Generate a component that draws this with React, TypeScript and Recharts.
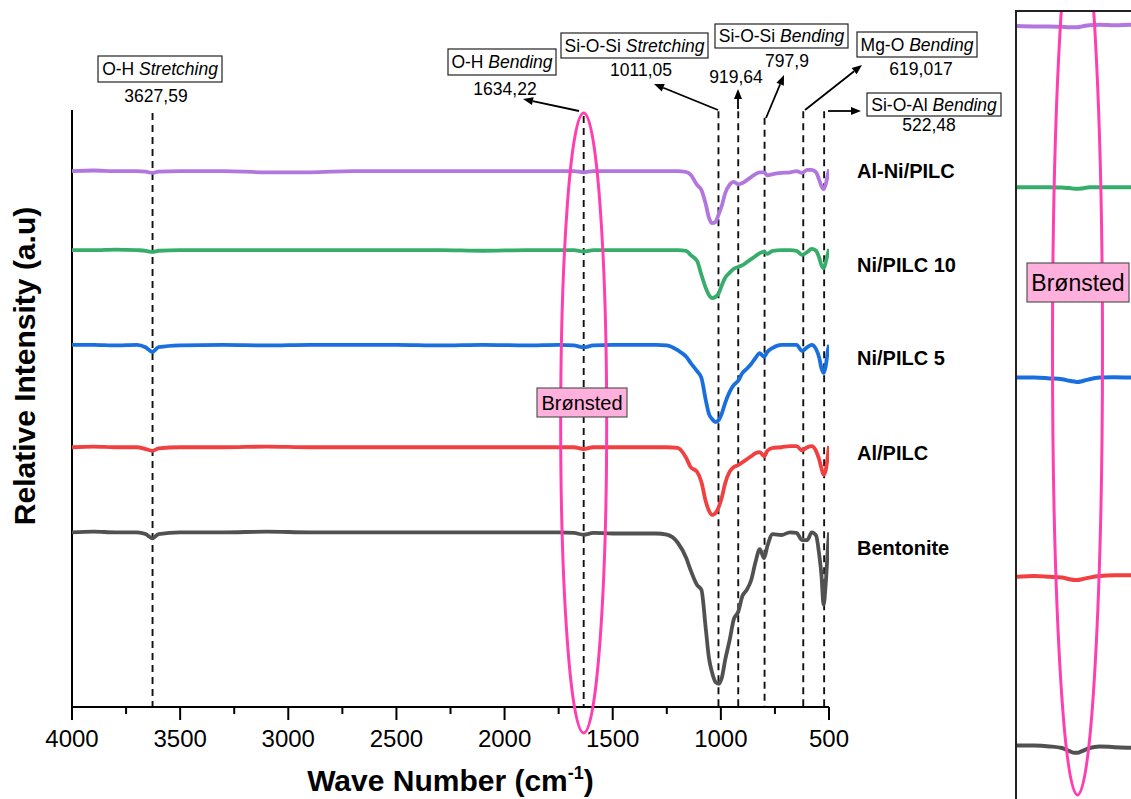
import React from "react";
import { LineChart, Line, XAxis, YAxis, ReferenceLine, ReferenceDot } from "recharts";

// FTIR spectra, shared wavenumber grid (cm-1), stacked relative intensity (a.u.)
const wavenumbers = [
  4000, 3900, 3800, 3700, 3660, 3628, 3600, 3500, 3300, 3100,
  2900, 2700, 2500, 2300, 2100, 1900, 1750, 1680, 1634, 1590,
  1500, 1400, 1300, 1250, 1200, 1160, 1140, 1110, 1090, 1070,
  1055, 1040, 1025, 1010, 995, 980, 960, 940, 920, 900,
  880, 860, 840, 820, 800, 785, 760, 720, 680, 650,
  625, 600, 580, 560, 545, 535, 525, 515, 505, 500,
];
const alNiPilc = [
  90.3, 90.4, 90.3, 90.3, 90.2, 90.0, 90.2, 90.3, 90.3, 90.1,
  90.1, 90.3, 90.3, 90.3, 90.3, 90.3, 90.3, 90.3, 90.1, 90.3,
  90.3, 90.3, 90.3, 90.3, 90.3, 90.15, 89.7, 88.0, 87.15, 84.8,
  82.5, 81.6, 81.8, 83.1, 84.6, 86.6, 88.0, 88.5, 88.1, 88.3,
  88.8, 89.3, 89.8, 90.1, 90.1, 89.6, 89.8, 90.0, 90.1, 90.3,
  90.0, 90.5, 90.5, 90.1, 88.8, 87.8, 87.3, 88.1, 89.8, 90.6,
];
const niPilc10 = [
  77.1, 77.1, 77.2, 77.1, 77.0, 76.8, 77.0, 77.1, 77.1, 77.1,
  77.1, 77.1, 77.1, 77.1, 77.0, 77.1, 77.1, 77.1, 76.9, 77.1,
  77.1, 77.1, 77.1, 77.1, 77.1, 77.0, 76.3, 75.3, 73.0, 70.8,
  69.6, 69.1, 69.3, 69.9, 71.3, 72.5, 73.3, 74.0, 74.3, 74.6,
  75.1, 75.6, 76.1, 76.6, 76.8, 76.5, 77.0, 77.1, 77.1, 77.0,
  76.3, 76.8, 77.3, 77.0, 75.8, 74.6, 74.1, 75.1, 76.6, 77.3,
];
const niPilc5 = [
  61.3, 61.3, 61.2, 61.3, 60.9, 60.1, 60.9, 61.2, 61.3, 61.2,
  61.3, 61.3, 61.3, 61.2, 61.3, 61.2, 61.3, 61.2, 60.9, 61.2,
  61.3, 61.3, 61.3, 61.2, 60.4, 59.3, 58.3, 56.9, 55.8, 52.1,
  49.75, 48.9, 48.4, 48.75, 49.9, 51.6, 53.4, 54.6, 55.3, 56.6,
  57.3, 58.1, 59.1, 59.9, 59.3, 60.1, 60.8, 61.3, 61.3, 61.3,
  60.3, 60.9, 61.3, 60.6, 59.1, 57.4, 56.6, 57.8, 60.4, 61.3,
];
const alPilc = [
  44.2, 44.3, 44.2, 44.2, 43.9, 43.6, 44.0, 44.2, 44.2, 44.3,
  44.2, 44.2, 44.2, 44.2, 44.2, 44.2, 44.2, 44.2, 43.9, 44.2,
  44.2, 44.2, 44.2, 44.2, 44.1, 42.4, 40.9, 40.1, 38.4, 35.2,
  33.6, 32.9, 33.2, 34.2, 35.9, 38.2, 40.1, 40.9, 41.2, 41.7,
  42.2, 42.7, 43.2, 43.4, 42.7, 43.6, 44.1, 44.2, 44.4, 44.4,
  43.7, 44.2, 44.4, 43.6, 42.1, 40.7, 39.6, 40.4, 42.9, 44.4,
];
const bentonite = [
  30.0, 30.1, 30.0, 30.0, 29.7, 29.0, 29.7, 30.0, 30.0, 30.1,
  30.0, 30.0, 30.0, 30.0, 30.0, 30.0, 30.0, 29.9, 29.6, 29.9,
  29.8, 29.8, 29.8, 29.6, 28.3, 25.7, 23.7, 21.2, 20.4, 14.0,
  9.0, 6.5, 5.0, 4.7, 5.8, 8.7, 11.9, 15.5, 16.7, 19.4,
  20.4, 22.0, 25.0, 27.2, 25.7, 27.7, 29.7, 29.55, 30.0, 29.9,
  28.7, 28.7, 30.0, 29.5, 26.2, 22.9, 17.9, 21.5, 27.5, 30.0,
];

// zoomed panel around the O-H bending band
const insetWavenumbers = [1755, 1720, 1690, 1665, 1650, 1640, 1634, 1625, 1610, 1590, 1560, 1520, 1480, 1440, 1400, 1355];
const insetAlNiPilc = [98.25, 98.2, 98.2, 98.15, 98.1, 98.1, 98.1, 98.2, 98.35, 98.4, 98.35, 98.4, 98.35, 98.4, 98.4, 98.35];
const insetNiPilc10 = [78.1, 78.1, 78.1, 78.05, 78.0, 77.9, 77.9, 77.95, 78.1, 78.1, 78.1, 78.1, 78.1, 78.1, 78.1, 78.1];
const insetNiPilc5 = [54.3, 54.3, 54.2, 54.1, 53.9, 53.8, 53.75, 53.85, 54.1, 54.3, 54.35, 54.3, 54.3, 54.3, 54.3, 54.3];
const insetAlPilc = [29.4, 29.5, 29.4, 29.3, 29.1, 29.0, 29.0, 29.1, 29.3, 29.5, 29.6, 29.6, 29.6, 29.6, 29.6, 29.6];
const insetBentonite = [8.3, 8.3, 8.2, 8.0, 7.6, 7.4, 7.4, 7.6, 8.0, 8.2, 8.1, 8.0, 7.9, 7.9, 7.9, 7.9];

const seriesNames = ["Al-Ni/PILC", "Ni/PILC 10", "Ni/PILC 5", "Al/PILC", "Bentonite"];
const seriesKeys = ["alNiPilc", "niPilc10", "niPilc5", "alPilc", "bentonite"];
const seriesColors = ["#B177DE", "#37AD6B", "#1A6FDF", "#F14040", "#515151"];
const seriesLabelLevels = [89.15, 73.46, 57.93, 42.07, 26.21];

const xTicks = [4000, 3750, 3500, 3250, 3000, 2750, 2500, 2250, 2000, 1750, 1500, 1250, 1000, 750, 500];

const peakWavenumbers = [3627.59, 1634.22, 1011.05, 919.64, 797.9, 619.017, 522.48];
const peakValues = ["3627,59", "1634,22", "1011,05", "919,64", "797,9", "619,017", "522,48"];
const peakGroups = ["O-H", "O-H", "Si-O-Si", "", "Si-O-Si", "Mg-O", "Si-O-Al"];
const peakModes = ["Stretching", "Bending", "Stretching", "", "Bending", "Bending", "Bending"];
const peakLineTops = [100.0, 99.5, 100.3, 100.3, 99.2, 100.3, 100.3];

const spectra = wavenumbers.map((wn, i) => ({
  wn,
  alNiPilc: alNiPilc[i],
  niPilc10: niPilc10[i],
  niPilc5: niPilc5[i],
  alPilc: alPilc[i],
  bentonite: bentonite[i],
}));
const insetSpectra = insetWavenumbers.map((wn, i) => ({
  wn,
  alNiPilc: insetAlNiPilc[i],
  niPilc10: insetNiPilc10[i],
  niPilc5: insetNiPilc5[i],
  alPilc: insetAlPilc[i],
  bentonite: insetBentonite[i],
}));

const FONT = "'Liberation Sans', Arial, Helvetica, sans-serif";
const PINK = "#FF3FB0";
const PINK_FILL = "#FFB0DC";
const Y_DOMAIN: [number, number] = [0.835, 100.5];

// annotation boxes / arrows (pixels)
const annotLayout = [
  { box: [98, 56, 124, 26], text: [156, 102], arrow: null },
  { box: [448, 49, 108, 26], text: [505, 95], arrow: [579, 111, 523, 99] },
  { box: [561, 33, 147, 25], text: [641, 76], arrow: [718, 110, 654, 84] },
  { box: null, text: [736, 83], arrow: [738, 109, 738, 89] },
  { box: [715, 24, 133, 24], text: [787, 67], arrow: [766, 118, 784, 75] },
  { box: [857, 32, 120, 25], text: [921, 75], arrow: [805, 110, 862, 65] },
  { box: [867, 93, 134, 23], text: [929, 131], arrow: [828, 111, 861, 111] },
];

const Arrow = ({ x1, y1, x2, y2 }: { x1: number; y1: number; x2: number; y2: number }) => {
  const a = Math.atan2(y2 - y1, x2 - x1);
  const len = 10;
  const w = 4;
  const bx = x2 - len * Math.cos(a);
  const by = y2 - len * Math.sin(a);
  const p1 = `${bx + w * Math.sin(a)},${by - w * Math.cos(a)}`;
  const p2 = `${bx - w * Math.sin(a)},${by + w * Math.cos(a)}`;
  return (
    <g>
      <line x1={x1} y1={y1} x2={bx} y2={by} stroke="#000" strokeWidth={1.8} />
      <polygon points={`${x2},${y2} ${p1} ${p2}`} fill="#000" />
    </g>
  );
};

const AxisTick = (props: any) => {
  const { x, y, payload } = props;
  const major = payload.value % 500 === 0;
  return (
    <g>
      <line x1={x} x2={x} y1={y} y2={y + (major ? 13 : 7)} stroke="#000" strokeWidth={2} />
      {major && (
        <text x={x} y={y + 40} textAnchor="middle" fontSize={24} fill="#000" fontFamily={FONT}>
          {payload.value}
        </text>
      )}
    </g>
  );
};

const xTitle = () => (
  <text x={450.5} y={791} textAnchor="middle" fontSize={30} fontWeight="bold" fill="#000" fontFamily={FONT}>
    Wave Number (cm
    <tspan fontSize={18} dy={-12}>-1</tspan>
    <tspan dy={12}>)</tspan>
  </text>
);

const yTitle = () => (
  <text
    x={0}
    y={0}
    transform="translate(35, 366) rotate(-90)"
    textAnchor="middle"
    fontSize={30}
    fontWeight="bold"
    fill="#000"
    fontFamily={FONT}
  >
    Relative Intensity (a.u)
  </text>
);

const PeakNote = (i: number) => () => {
  const l = annotLayout[i];
  return (
    <g fontFamily={FONT} fontSize={17.5} fill="#000">
      {l.box && (
        <g>
          <rect x={l.box[0]} y={l.box[1]} width={l.box[2]} height={l.box[3]} fill="#fff" stroke="#222" strokeWidth={1.2} />
          <text x={l.box[0] + l.box[2] / 2} y={l.box[1] + l.box[3] / 2 + 6} textAnchor="middle">
            {peakGroups[i]} <tspan fontStyle="italic">{peakModes[i]}</tspan>
          </text>
        </g>
      )}
      <text x={l.text[0]} y={l.text[1]} textAnchor="middle">
        {peakValues[i]}
      </text>
      {l.arrow && <Arrow x1={l.arrow[0]} y1={l.arrow[1]} x2={l.arrow[2]} y2={l.arrow[3]} />}
    </g>
  );
};

const BronstedBox = ({ x, y, w, h, size }: { x: number; y: number; w: number; h: number; size: number }) => (
  <g>
    <rect x={x} y={y} width={w} height={h} fill={PINK_FILL} stroke="#555" strokeWidth={1.2} />
    <text x={x + w / 2} y={y + h / 2 + size * 0.36} textAnchor="middle" fontSize={size} fill="#000" fontFamily={FONT}>
      Brønsted
    </text>
  </g>
);

const App = () => {
  return (
    <div
      style={{
        position: "absolute",
        left: 0,
        top: 0,
        width: 1131,
        height: 799,
        overflow: "hidden",
        background: "#fff",
        fontFamily: FONT,
      }}
    >
      <LineChart width={1131} height={799} data={spectra} margin={{ top: 110, right: 302, bottom: 32, left: 72 }}>
        <XAxis
          dataKey="wn"
          type="number"
          domain={[500, 4000]}
          reversed
          ticks={xTicks}
          interval={0}
          tickSize={0}
          tickMargin={0}
          tickLine={false}
          tick={<AxisTick />}
          axisLine={{ stroke: "#000", strokeWidth: 2 }}
          height={60}
          label={xTitle}
          allowDataOverflow
        />
        <YAxis hide type="number" domain={Y_DOMAIN} allowDataOverflow />
        <ReferenceLine x={4000} stroke="#000" strokeWidth={2} label={yTitle} />
        {peakWavenumbers.map((wn, i) => (
          <ReferenceLine
            key={"pl" + i}
            segment={[
              { x: wn, y: peakLineTops[i] },
              { x: wn, y: Y_DOMAIN[0] },
            ]}
            stroke="#111"
            strokeWidth={1.9}
            strokeDasharray="7 5"
            label={PeakNote(i)}
          />
        ))}
        {seriesKeys.map((k, i) => (
          <Line
            key={k}
            dataKey={k}
            type="monotone"
            stroke={seriesColors[i]}
            strokeWidth={3.8}
            dot={false}
            isAnimationActive={false}
          />
        ))}
        <ReferenceDot
          x={1634.22}
          y={48.25}
          r={0}
          shape={(p: any) => (
            <g>
              <ellipse cx={p.cx} cy={p.cy} rx={23} ry={310} fill="none" stroke={PINK} strokeWidth={3} />
              <BronstedBox x={537} y={388} w={90} h={29} size={20} />
            </g>
          )}
        />
        {seriesNames.map((name, i) => (
          <ReferenceDot
            key={"sl" + i}
            x={500}
            y={seriesLabelLevels[i]}
            r={0}
            shape={(p: any) => (
              <text x={p.cx + 28} y={p.cy} fontSize={20} fontWeight="bold" fill="#000" fontFamily={FONT}>
                {name}
              </text>
            )}
          />
        ))}
      </LineChart>

      <div
        style={{
          position: "absolute",
          left: 1015,
          top: 10,
          width: 300,
          height: 900,
          border: "2px solid #222",
        }}
      >
        <LineChart width={200} height={800} data={insetSpectra} margin={{ top: 0, right: 0, bottom: 0, left: 0 }}>
          <XAxis dataKey="wn" type="number" domain={[1355, 1755]} reversed hide allowDataOverflow />
          <YAxis type="number" domain={[0, 100]} hide allowDataOverflow />
          {seriesKeys.map((k, i) => (
            <Line
              key={k}
              dataKey={k}
              type="monotone"
              stroke={seriesColors[i]}
              strokeWidth={4}
              dot={false}
              isAnimationActive={false}
            />
          ))}
          <ReferenceDot
            x={1634}
            y={57.75}
            r={0}
            shape={(p: any) => (
              <g>
                <ellipse cx={p.cx} cy={p.cy} rx={25} ry={445} fill="none" stroke={PINK} strokeWidth={3} />
                <BronstedBox x={10} y={251} w={102} h={39} size={23} />
              </g>
            )}
          />
        </LineChart>
      </div>
    </div>
  );
};

export default App;
